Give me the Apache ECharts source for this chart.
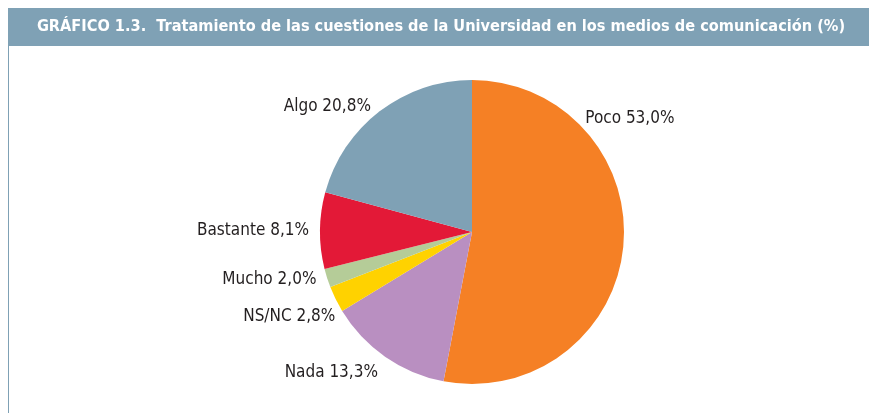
<!DOCTYPE html>
<html>
<head>
<meta charset="utf-8">
<script src="https://cdn.jsdelivr.net/npm/echarts@6/dist/echarts.min.js"></script>
<style>
  html, body { margin: 0; padding: 0; background: #fff; }
  #chart { width: 869px; height: 413px; }
</style>
</head>
<body>
<div id="chart"></div>
<script>
const titleText = 'GRÁFICO 1.3.  Tratamiento de las cuestiones de la Universidad en los medios de comunicación (%)';
const categories = ['Poco', 'Nada', 'NS/NC', 'Mucho', 'Bastante', 'Algo'];
const values = [53.0, 13.3, 2.8, 2.0, 8.1, 20.8];
const colors = ['#F58025', '#B98FC1', '#FFD200', '#B5CC98', '#E31937', '#7FA1B5'];

const pieData = categories.map((name, i) => {
  return { name: name, value: values[i], itemStyle: { color: colors[i] } };
});

// nudges so labels sit where the original puts them
const labelShift = {
  Poco: [-49, -128],
  Nada: [1, 11],
  'NS/NC': [10, 15]
};

var dom = document.getElementById('chart');
var myChart = echarts.init(dom, null, { renderer: 'canvas' });

var option = {
  animation: false,
  graphic: [
    {
      type: 'rect',
      shape: { x: 8, y: 8, width: 861, height: 38 },
      style: { fill: '#7FA1B5' }
    },
    {
      type: 'rect',
      shape: { x: 8, y: 46, width: 1, height: 367 },
      style: { fill: '#7FA1B5' }
    },
    {
      type: 'text',
      x: 441,
      y: 27,
      style: {
        text: titleText,
        fill: '#fff',
        font: 'bold 16.2px "DejaVu Sans Condensed"',
        align: 'center',
        verticalAlign: 'middle'
      }
    }
  ],
  series: [
    {
      type: 'pie',
      center: [472, 232],
      radius: 152,
      startAngle: 90,
      clockwise: true,
      data: pieData,
      label: {
        show: true,
        position: 'outside',
        formatter: (p) => p.name + ' ' + p.value.toFixed(1).replace('.', ',') + '%',
        color: '#231F20',
        fontSize: 17,
        fontFamily: 'DejaVu Sans Condensed'
      },
      labelLine: { show: false, length: 6, length2: 0 },
      labelLayout: (params) => {
        const s = labelShift[categories[params.dataIndex]];
        return s ? { dx: s[0], dy: s[1] } : {};
      },
      emphasis: { disabled: true }
    }
  ]
};

myChart.setOption(option);
</script>
</body>
</html>
